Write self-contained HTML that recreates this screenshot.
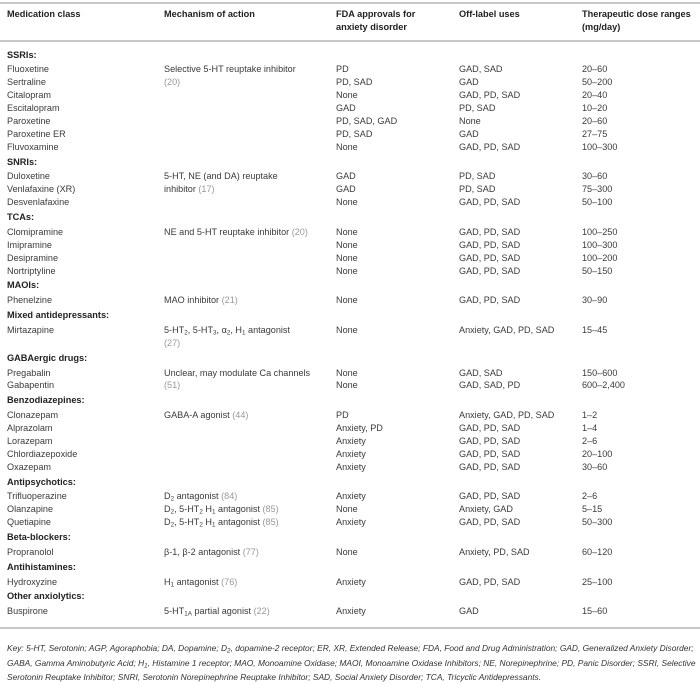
<!DOCTYPE html>
<html><head><meta charset="utf-8"><style>
body{margin:0;width:700px;height:685px;background:#fff;font-family:"Liberation Sans",sans-serif;color:#3a3a3a;position:relative;overflow:hidden}
.hl{position:absolute;left:0;width:700px;height:1.5px;background:#c8c8c8}
.hd{position:absolute;font-weight:bold;font-size:9.2px;color:#222;line-height:13px}
#t{position:absolute;left:0;top:46.6px;width:700px}
.r{position:relative;height:12.9px;line-height:12.9px;font-size:9.1px;white-space:nowrap}
.g{position:relative;height:16.8px;line-height:16.8px;font-size:9.2px;font-weight:bold;color:#222;padding-left:7px}
.r span{position:absolute;top:0}
.c1{left:7px}.c2{left:164px}.c3{left:336px}.c4{left:459px}.c5{left:582px}
.ref{color:#999}
sub{font-size:6.3px;vertical-align:-1.5px;line-height:0}
.key{position:absolute;left:7px;top:641px;width:692px;font-size:8.4px;font-style:italic;line-height:14.5px;color:#333;white-space:nowrap}
</style></head><body>
<div class="hl" style="top:2px"></div>
<div class="hd" style="left:7px;top:8px">Medication class</div>
<div class="hd" style="left:164px;top:8px">Mechanism of action</div>
<div class="hd" style="left:336px;top:8px">FDA approvals for<br>anxiety disorder</div>
<div class="hd" style="left:459px;top:8px">Off-label uses</div>
<div class="hd" style="left:582px;top:8px">Therapeutic dose ranges<br>(mg/day)</div>
<div class="hl" style="top:40px"></div>
<div id="t">
<div class="g">SSRIs:</div>
<div class="r"><span class="c1">Fluoxetine</span><span class="c2">Selective 5-HT reuptake inhibitor<br><span class="ref" style="position:static">(20)</span></span><span class="c3">PD</span><span class="c4">GAD, SAD</span><span class="c5">20–60</span></div>
<div class="r"><span class="c1">Sertraline</span><span class="c3">PD, SAD</span><span class="c4">GAD</span><span class="c5">50–200</span></div>
<div class="r"><span class="c1">Citalopram</span><span class="c3">None</span><span class="c4">GAD, PD, SAD</span><span class="c5">20–40</span></div>
<div class="r"><span class="c1">Escitalopram</span><span class="c3">GAD</span><span class="c4">PD, SAD</span><span class="c5">10–20</span></div>
<div class="r"><span class="c1">Paroxetine</span><span class="c3">PD, SAD, GAD</span><span class="c4">None</span><span class="c5">20–60</span></div>
<div class="r"><span class="c1">Paroxetine ER</span><span class="c3">PD, SAD</span><span class="c4">GAD</span><span class="c5">27–75</span></div>
<div class="r"><span class="c1">Fluvoxamine</span><span class="c3">None</span><span class="c4">GAD, PD, SAD</span><span class="c5">100–300</span></div>
<div class="g">SNRIs:</div>
<div class="r"><span class="c1">Duloxetine</span><span class="c2">5-HT, NE (and DA) reuptake<br>inhibitor <span class="ref" style="position:static">(17)</span></span><span class="c3">GAD</span><span class="c4">PD, SAD</span><span class="c5">30–60</span></div>
<div class="r"><span class="c1">Venlafaxine (XR)</span><span class="c3">GAD</span><span class="c4">PD, SAD</span><span class="c5">75–300</span></div>
<div class="r"><span class="c1">Desvenlafaxine</span><span class="c3">None</span><span class="c4">GAD, PD, SAD</span><span class="c5">50–100</span></div>
<div class="g">TCAs:</div>
<div class="r"><span class="c1">Clomipramine</span><span class="c2">NE and 5-HT reuptake inhibitor <span class="ref" style="position:static">(20)</span></span><span class="c3">None</span><span class="c4">GAD, PD, SAD</span><span class="c5">100–250</span></div>
<div class="r"><span class="c1">Imipramine</span><span class="c3">None</span><span class="c4">GAD, PD, SAD</span><span class="c5">100–300</span></div>
<div class="r"><span class="c1">Desipramine</span><span class="c3">None</span><span class="c4">GAD, PD, SAD</span><span class="c5">100–200</span></div>
<div class="r"><span class="c1">Nortriptyline</span><span class="c3">None</span><span class="c4">GAD, PD, SAD</span><span class="c5">50–150</span></div>
<div class="g">MAOIs:</div>
<div class="r"><span class="c1">Phenelzine</span><span class="c2">MAO inhibitor <span class="ref" style="position:static">(21)</span></span><span class="c3">None</span><span class="c4">GAD, PD, SAD</span><span class="c5">30–90</span></div>
<div class="g">Mixed antidepressants:</div>
<div class="r"><span class="c1">Mirtazapine</span><span class="c2">5-HT<sub>2</sub>, 5-HT<sub>3</sub>, α<sub>2</sub>, H<sub>1</sub> antagonist<br><span class="ref" style="position:static">(27)</span></span><span class="c3">None</span><span class="c4">Anxiety, GAD, PD, SAD</span><span class="c5">15–45</span></div>
<div class="r"></div>
<div class="g">GABAergic drugs:</div>
<div class="r"><span class="c1">Pregabalin</span><span class="c2">Unclear, may modulate Ca channels<br><span class="ref" style="position:static">(51)</span></span><span class="c3">None</span><span class="c4">GAD, SAD</span><span class="c5">150–600</span></div>
<div class="r"><span class="c1">Gabapentin</span><span class="c3">None</span><span class="c4">GAD, SAD, PD</span><span class="c5">600–2,400</span></div>
<div class="g">Benzodiazepines:</div>
<div class="r"><span class="c1">Clonazepam</span><span class="c2">GABA-A agonist <span class="ref" style="position:static">(44)</span></span><span class="c3">PD</span><span class="c4">Anxiety, GAD, PD, SAD</span><span class="c5">1–2</span></div>
<div class="r"><span class="c1">Alprazolam</span><span class="c3">Anxiety, PD</span><span class="c4">GAD, PD, SAD</span><span class="c5">1–4</span></div>
<div class="r"><span class="c1">Lorazepam</span><span class="c3">Anxiety</span><span class="c4">GAD, PD, SAD</span><span class="c5">2–6</span></div>
<div class="r"><span class="c1">Chlordiazepoxide</span><span class="c3">Anxiety</span><span class="c4">GAD, PD, SAD</span><span class="c5">20–100</span></div>
<div class="r"><span class="c1">Oxazepam</span><span class="c3">Anxiety</span><span class="c4">GAD, PD, SAD</span><span class="c5">30–60</span></div>
<div class="g">Antipsychotics:</div>
<div class="r"><span class="c1">Trifluoperazine</span><span class="c2">D<sub>2</sub> antagonist <span class="ref" style="position:static">(84)</span></span><span class="c3">Anxiety</span><span class="c4">GAD, PD, SAD</span><span class="c5">2–6</span></div>
<div class="r"><span class="c1">Olanzapine</span><span class="c2">D<sub>2</sub>, 5-HT<sub>2</sub> H<sub>1</sub> antagonist <span class="ref" style="position:static">(85)</span></span><span class="c3">None</span><span class="c4">Anxiety, GAD</span><span class="c5">5–15</span></div>
<div class="r"><span class="c1">Quetiapine</span><span class="c2">D<sub>2</sub>, 5-HT<sub>2</sub> H<sub>1</sub> antagonist <span class="ref" style="position:static">(85)</span></span><span class="c3">Anxiety</span><span class="c4">GAD, PD, SAD</span><span class="c5">50–300</span></div>
<div class="g">Beta-blockers:</div>
<div class="r"><span class="c1">Propranolol</span><span class="c2">β-1, β-2 antagonist <span class="ref" style="position:static">(77)</span></span><span class="c3">None</span><span class="c4">Anxiety, PD, SAD</span><span class="c5">60–120</span></div>
<div class="g">Antihistamines:</div>
<div class="r"><span class="c1">Hydroxyzine</span><span class="c2">H<sub>1</sub> antagonist <span class="ref" style="position:static">(76)</span></span><span class="c3">Anxiety</span><span class="c4">GAD, PD, SAD</span><span class="c5">25–100</span></div>
<div class="g">Other anxiolytics:</div>
<div class="r"><span class="c1">Buspirone</span><span class="c2">5-HT<sub>1A</sub> partial agonist <span class="ref" style="position:static">(22)</span></span><span class="c3">Anxiety</span><span class="c4">GAD</span><span class="c5">15–60</span></div>
</div>
<div class="hl" style="top:627px"></div>
<div class="key">Key: 5-HT, Serotonin; AGP, Agoraphobia; DA, Dopamine; D<sub>2</sub>, dopamine-2 receptor; ER, XR, Extended Release; FDA, Food and Drug Administration; GAD, Generalized Anxiety Disorder;<br>GABA, Gamma Aminobutyric Acid; H<sub>1</sub>, Histamine 1 receptor; MAO, Monoamine Oxidase; MAOI, Monoamine Oxidase Inhibitors; NE, Norepinephrine; PD, Panic Disorder; SSRI, Selective<br>Serotonin Reuptake Inhibitor; SNRI, Serotonin Norepinephrine Reuptake Inhibitor; SAD, Social Anxiety Disorder; TCA, Tricyclic Antidepressants.</div>
</body></html>
